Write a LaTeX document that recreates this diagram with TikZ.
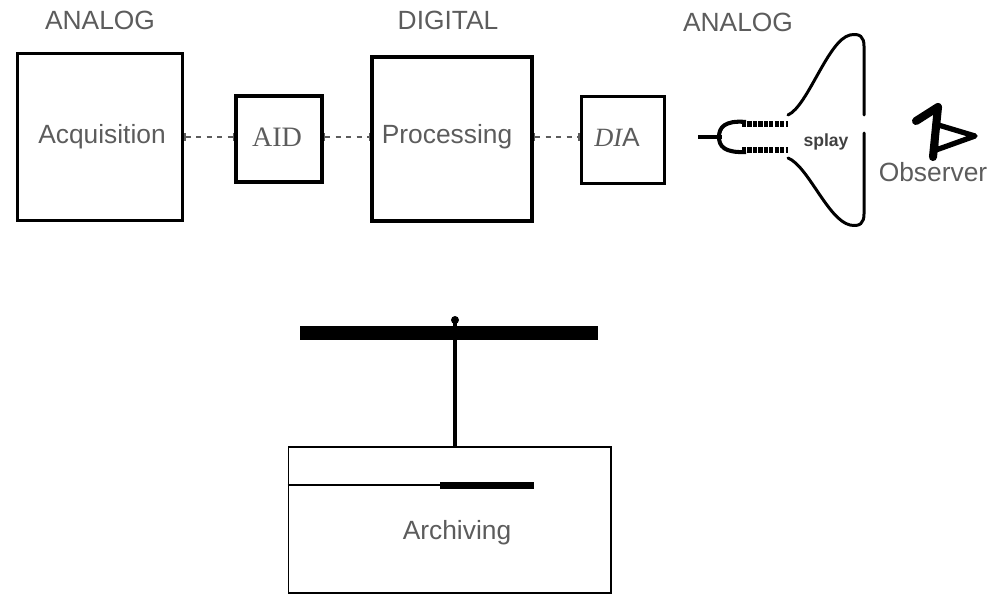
\documentclass[tikz,border=0pt]{standalone}
\usepackage{fontspec}
\setmainfont{Liberation Sans}
\newfontfamily\timesface{Liberation Serif}
\usetikzlibrary{arrows.meta}

\definecolor{labelgray}{gray}{0.36}

\tikzset{
  block/.style={draw, line width=2.2pt, minimum width=#1, minimum height=#1, inner sep=0pt},
  lbl/.style={text=labelgray, font=\fontsize{15}{18}\selectfont},
  link/.style={dashed, dash pattern=on 3pt off 3pt, line width=0.6pt, labelgray,
               {Bar[width=4pt,line width=0.8pt]}-{Bar[width=4pt,line width=0.8pt]}},
  horn/.style={line width=1.7pt, line cap=round},
}

\begin{document}
\begin{tikzpicture}[x=0.02cm, y=-0.02cm]
  \useasboundingbox (0,0) rectangle (991,595);

  % Bereiche
  \node[lbl] (ana1) at (100,20) {ANALOG};
  \node[lbl] (dig)  at (448,20) {DIGITAL};
  \node[lbl] (ana2) at (738,22) {ANALOG};

  % Blokken
  \node[block=3.3cm, minimum height=3.34cm] (acq)  at (100,137) {};
  \node[lbl] at (102,137) {Acquisition};
  \node[block=1.72cm] (ad)   at (279,139) {};
  \node[lbl, font=\timesface\fontsize{16}{18}\selectfont] at (277,137) {AID};
  \node[block=3.2cm, minimum height=3.28cm] (proc) at (452,139) {};
  \node[lbl] at (447,137) {Processing};
  \node[block=1.66cm, minimum height=1.74cm] (da) at (623,140) {};
  \node[lbl] at (617,137) {{\timesface\itshape DI}A};

  % Verbindingen
  \draw[link] (acq.east |- 0,137) -- (ad.west |- 0,137);
  \draw[link] (ad.east |- 0,137) -- (proc.west |- 0,137);
  \draw[link] (proc.east |- 0,137) -- (da.west |- 0,137);

  % Scherm
  \draw[line width=2.8pt] (698,137) -- (722,137);
  \draw[line width=2.3pt] (746,122) .. controls (724,120) and (719,128) .. (719,137)
                                    .. controls (719,146) and (724,153) .. (746,152);
  \draw[line width=3.4pt, dash pattern=on 2.4pt off 0.7pt] (742,124) -- (788,124);
  \draw[line width=3.4pt, dash pattern=on 2.4pt off 0.7pt] (742,150) -- (788,150);
  \draw[horn] (788,115) .. controls (808,106) and (828,40) .. (850,35)
              .. controls (860,33) and (864,37) .. (864,46) -- (864,115);
  \draw[horn] (788,158) .. controls (808,166) and (828,220) .. (850,225)
              .. controls (860,227) and (864,223) .. (864,214) -- (864,133);
  \node[text=black!75, font=\bfseries\fontsize{10}{12}\selectfont] (spl) at (826,142) {splay};

  % Waarnemer
  \draw[line width=4.6pt, line join=round, line cap=round] (916,121) -- (938,107) -- (933,157);
  \draw[line width=3pt, line join=round] (935,124) -- (975,136) -- (936,150) -- cycle;
  \node[lbl] (obs) at (933,172) {Observer};

  % Archief
  \coordinate (tap) at (455,320);
  \fill (tap) circle (4);
  \node[fill, minimum width=5.96cm, minimum height=0.28cm, inner sep=0pt] (bus) at (449,333) {};
  \node[draw, line width=0.6pt, minimum width=6.46cm, minimum height=2.92cm] (arch) at (449.5,520) {};
  \draw[line width=2.3pt] (tap) -- (tap |- arch.north);
  \draw[line width=0.6pt] (arch.west |- 0,485) -- (440,485);
  \fill (440,482) rectangle (534,489);
  \node[lbl] (archtxt) at (457,533) {Archiving};
\end{tikzpicture}
\end{document}
